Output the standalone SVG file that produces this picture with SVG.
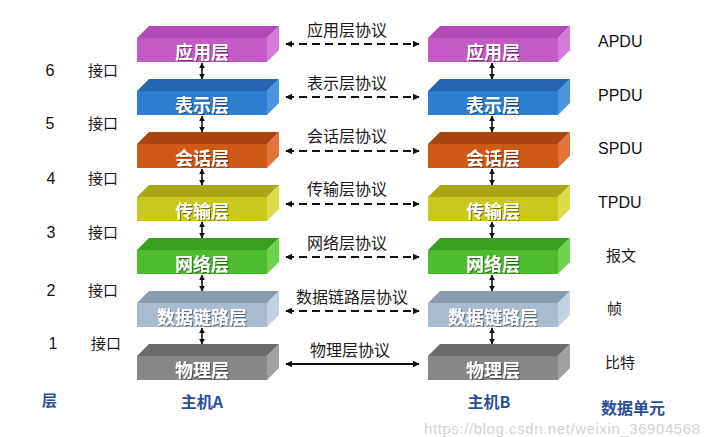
<svg xmlns="http://www.w3.org/2000/svg" width="708" height="437" viewBox="0 0 708 437">
<defs>
<style>
.lbl{font-family:"Noto Sans CJK SC",sans-serif;font-size:18px;font-weight:bold;fill:#ffffff;text-anchor:middle}
.proto{font-family:"Noto Sans CJK SC",sans-serif;font-size:16px;fill:#1a1a1a;text-anchor:middle}
.num{font-family:"Liberation Sans",Arial,sans-serif;font-size:16px;fill:#111;text-anchor:middle}
.cn{font-family:"Noto Sans CJK SC",sans-serif;font-size:15px;fill:#1a1a1a}
.pdu{font-family:"Liberation Sans",Arial,sans-serif;font-size:16px;fill:#111}
.blue{font-family:"Noto Sans CJK SC",sans-serif;font-size:16px;font-weight:bold;fill:#2a4d9c}
.dash{stroke:#111;stroke-width:2;stroke-dasharray:8 5;fill:none}
.solid{stroke:#111;stroke-width:2;fill:none}
.v{stroke:#111;stroke-width:1.6;fill:none}
.wm{font-family:"Liberation Sans",Arial,sans-serif;font-size:15px;fill:#d2d2d2}
</style>
<marker id="ah" viewBox="0 0 10 10" refX="9" refY="5" markerWidth="7" markerHeight="7" markerUnits="userSpaceOnUse" orient="auto-start-reverse">
<path d="M0,0 L10,5 L0,10 z" fill="#111"/>
</marker>
<marker id="vh" viewBox="0 0 10 10" refX="9" refY="5" markerWidth="6" markerHeight="6" markerUnits="userSpaceOnUse" orient="auto-start-reverse">
<path d="M0,0 L10,5 L0,10 z" fill="#111"/>
</marker>
<filter id="sh" x="-10%" y="-20%" width="130%" height="150%">
<feDropShadow dx="1" dy="1" stdDeviation="0.6" flood-color="#000" flood-opacity="0.45"/>
</filter>
</defs>
<rect width="708" height="437" fill="#ffffff"/>

<!-- Host A -->
<g id="A-app"><polygon points="137,38 267,38 279,26 149,26" fill="#b24ab8"/><polygon points="267,38 279,26 279,50 267,62" fill="#d47ad8"/><rect x="137" y="38" width="130" height="24" fill="#c45ac6"/><text class="lbl" x="202" y="59" filter="url(#sh)">应用层</text></g>
<g id="A-pres"><polygon points="137,91 267,91 279,79 149,79" fill="#2466b4"/><polygon points="267,91 279,79 279,103 267,115" fill="#4a94e0"/><rect x="137" y="91" width="130" height="24" fill="#2e7fd2"/><text class="lbl" x="202" y="112" filter="url(#sh)">表示层</text></g>
<g id="A-sess"><polygon points="137,144 267,144 279,132 149,132" fill="#a94510"/><polygon points="267,144 279,132 279,156 267,168" fill="#e0753a"/><rect x="137" y="144" width="130" height="24" fill="#cf5a17"/><text class="lbl" x="202" y="165" filter="url(#sh)">会话层</text></g>
<g id="A-trans"><polygon points="137,197 267,197 279,185 149,185" fill="#a9a812"/><polygon points="267,197 279,185 279,209 267,221" fill="#dcdc48"/><rect x="137" y="197" width="130" height="24" fill="#c9c81c"/><text class="lbl" x="202" y="218" filter="url(#sh)">传输层</text></g>
<g id="A-net"><polygon points="137,250 267,250 279,238 149,238" fill="#38a01e"/><polygon points="267,250 279,238 279,262 267,274" fill="#6ed24e"/><rect x="137" y="250" width="130" height="24" fill="#4dbb2e"/><text class="lbl" x="202" y="271" filter="url(#sh)">网络层</text></g>
<g id="A-link"><polygon points="137,303 267,303 279,291 149,291" fill="#8a9cb0"/><polygon points="267,303 279,291 279,315 267,327" fill="#c2d2e2"/><rect x="137" y="303" width="130" height="24" fill="#a9bccf"/><text class="lbl" x="202" y="324" filter="url(#sh)">数据链路层</text></g>
<g id="A-phy"><polygon points="137,356 267,356 279,344 149,344" fill="#6a6a6a"/><polygon points="267,356 279,344 279,368 267,380" fill="#a0a0a0"/><rect x="137" y="356" width="130" height="24" fill="#878787"/><text class="lbl" x="202" y="377" filter="url(#sh)">物理层</text></g>

<!-- Host B -->
<g id="B-app"><polygon points="428,38 558,38 570,26 440,26" fill="#b24ab8"/><polygon points="558,38 570,26 570,50 558,62" fill="#d47ad8"/><rect x="428" y="38" width="130" height="24" fill="#c45ac6"/><text class="lbl" x="493" y="59" filter="url(#sh)">应用层</text></g>
<g id="B-pres"><polygon points="428,91 558,91 570,79 440,79" fill="#2466b4"/><polygon points="558,91 570,79 570,103 558,115" fill="#4a94e0"/><rect x="428" y="91" width="130" height="24" fill="#2e7fd2"/><text class="lbl" x="493" y="112" filter="url(#sh)">表示层</text></g>
<g id="B-sess"><polygon points="428,144 558,144 570,132 440,132" fill="#a94510"/><polygon points="558,144 570,132 570,156 558,168" fill="#e0753a"/><rect x="428" y="144" width="130" height="24" fill="#cf5a17"/><text class="lbl" x="493" y="165" filter="url(#sh)">会话层</text></g>
<g id="B-trans"><polygon points="428,197 558,197 570,185 440,185" fill="#a9a812"/><polygon points="558,197 570,185 570,209 558,221" fill="#dcdc48"/><rect x="428" y="197" width="130" height="24" fill="#c9c81c"/><text class="lbl" x="493" y="218" filter="url(#sh)">传输层</text></g>
<g id="B-net"><polygon points="428,250 558,250 570,238 440,238" fill="#38a01e"/><polygon points="558,250 570,238 570,262 558,274" fill="#6ed24e"/><rect x="428" y="250" width="130" height="24" fill="#4dbb2e"/><text class="lbl" x="493" y="271" filter="url(#sh)">网络层</text></g>
<g id="B-link"><polygon points="428,303 558,303 570,291 440,291" fill="#8a9cb0"/><polygon points="558,303 570,291 570,315 558,327" fill="#c2d2e2"/><rect x="428" y="303" width="130" height="24" fill="#a9bccf"/><text class="lbl" x="493" y="324" filter="url(#sh)">数据链路层</text></g>
<g id="B-phy"><polygon points="428,356 558,356 570,344 440,344" fill="#6a6a6a"/><polygon points="558,356 570,344 570,368 558,380" fill="#a0a0a0"/><rect x="428" y="356" width="130" height="24" fill="#878787"/><text class="lbl" x="493" y="377" filter="url(#sh)">物理层</text></g>

<!-- connectors -->
<g id="connectors">
<line class="v" x1="202" y1="63" x2="202" y2="79" marker-start="url(#vh)" marker-end="url(#vh)"/>
<line class="v" x1="202" y1="116" x2="202" y2="132" marker-start="url(#vh)" marker-end="url(#vh)"/>
<line class="v" x1="202" y1="169" x2="202" y2="185" marker-start="url(#vh)" marker-end="url(#vh)"/>
<line class="v" x1="202" y1="222" x2="202" y2="238" marker-start="url(#vh)" marker-end="url(#vh)"/>
<line class="v" x1="202" y1="275" x2="202" y2="291" marker-start="url(#vh)" marker-end="url(#vh)"/>
<line class="v" x1="202" y1="328" x2="202" y2="344" marker-start="url(#vh)" marker-end="url(#vh)"/>
<line class="v" x1="492" y1="63" x2="492" y2="79" marker-start="url(#vh)" marker-end="url(#vh)"/>
<line class="v" x1="492" y1="116" x2="492" y2="132" marker-start="url(#vh)" marker-end="url(#vh)"/>
<line class="v" x1="492" y1="169" x2="492" y2="185" marker-start="url(#vh)" marker-end="url(#vh)"/>
<line class="v" x1="492" y1="222" x2="492" y2="238" marker-start="url(#vh)" marker-end="url(#vh)"/>
<line class="v" x1="492" y1="275" x2="492" y2="291" marker-start="url(#vh)" marker-end="url(#vh)"/>
<line class="v" x1="492" y1="328" x2="492" y2="344" marker-start="url(#vh)" marker-end="url(#vh)"/>

<line class="dash" x1="286" y1="44" x2="419" y2="44" marker-start="url(#ah)" marker-end="url(#ah)"/>
<line class="dash" x1="286" y1="97" x2="419" y2="97" marker-start="url(#ah)" marker-end="url(#ah)"/>
<line class="dash" x1="286" y1="151" x2="419" y2="151" marker-start="url(#ah)" marker-end="url(#ah)"/>
<line class="dash" x1="286" y1="204" x2="419" y2="204" marker-start="url(#ah)" marker-end="url(#ah)"/>
<line class="dash" x1="286" y1="257" x2="419" y2="257" marker-start="url(#ah)" marker-end="url(#ah)"/>
<line class="dash" x1="286" y1="311" x2="419" y2="311" marker-start="url(#ah)" marker-end="url(#ah)"/>
<line class="solid" x1="286" y1="364" x2="419" y2="364" marker-start="url(#ah)" marker-end="url(#ah)"/>
</g>

<!-- protocol labels -->
<g id="protocol-labels">
<text class="proto" x="347" y="36">应用层协议</text>
<text class="proto" x="347" y="89">表示层协议</text>
<text class="proto" x="347" y="142">会话层协议</text>
<text class="proto" x="347" y="195">传输层协议</text>
<text class="proto" x="347" y="249">网络层协议</text>
<text class="proto" x="352" y="303">数据链路层协议</text>
<text class="proto" x="350" y="356">物理层协议</text>
</g>

<!-- left column -->
<g id="interfaces">
<text class="num" x="50" y="76">6</text><text class="cn" x="88" y="76">接口</text>
<text class="num" x="50" y="129">5</text><text class="cn" x="88" y="129">接口</text>
<text class="num" x="51" y="184">4</text><text class="cn" x="88" y="184">接口</text>
<text class="num" x="51" y="238">3</text><text class="cn" x="88" y="238">接口</text>
<text class="num" x="51" y="296">2</text><text class="cn" x="88" y="296">接口</text>
<text class="num" x="53" y="349">1</text><text class="cn" x="91" y="349">接口</text>
<text class="blue" x="42" y="406" style="font-size:15px">层</text>
</g>

<!-- right column -->
<g id="pdus">
<text class="pdu" x="598" y="47">APDU</text>
<text class="pdu" x="598" y="101">PPDU</text>
<text class="pdu" x="598" y="154">SPDU</text>
<text class="pdu" x="598" y="208">TPDU</text>
<text class="cn" x="606" y="261">报文</text>
<text class="cn" x="607" y="314">帧</text>
<text class="cn" x="605" y="368">比特</text>
<text class="blue" x="601" y="414">数据单元</text>
</g>

<g id="hosts">
<text class="blue" x="202" y="408" text-anchor="middle">主机A</text>
<text class="blue" x="489" y="408" text-anchor="middle">主机B</text>
</g>

<text class="wm" x="424" y="434" textLength="276">https://blog.csdn.net/weixin_36904568</text>
</svg>
